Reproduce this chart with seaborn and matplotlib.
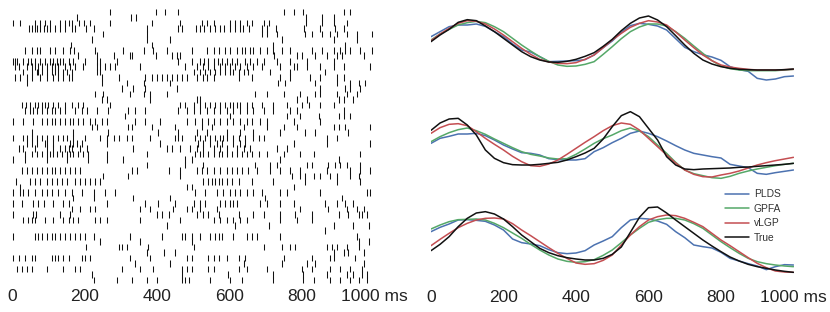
import numpy as np
import pandas as pd
import seaborn as sns
import matplotlib.pyplot as plt

sns.set_style("white")
plt.rcParams['font.family'] = ['Liberation Sans', 'DejaVu Sans']

# spike times in ms, one list per neuron (top row first)
spike_times = [
    [271, 398, 422, 457, 749, 777, 804, 915, 933],
    [180, 329, 342, 812, 855, 887],
    [4, 22, 64, 77, 91, 105, 133, 145, 156, 165, 186, 199, 214, 271, 386, 464, 524, 537, 556, 602, 616, 629, 648, 662, 694, 710, 812, 855, 887, 924],
    [48, 55, 63, 70, 78, 87, 96, 105, 119, 133, 146, 165, 174, 204, 226, 372, 459, 468, 508, 519, 531, 545, 560, 574, 585, 602, 616, 628, 637, 655, 689, 703, 729, 806, 850, 890, 915],
    [252, 372, 689, 703, 731, 809, 827, 855, 878, 896, 924, 951, 993],
    [220, 372, 436, 744, 887, 951],
    [162, 386, 721, 919],
    [36, 54, 68, 77, 105, 119, 142, 160, 171, 229, 307, 363, 390, 427, 496, 537, 556, 570, 588, 602, 620, 634, 643, 657, 666, 685, 703, 721, 744, 767, 827, 855, 887, 905, 919, 933, 961, 993],
    [181, 234, 280, 326, 332, 398, 441, 455, 464, 724, 786, 800, 836, 869, 896, 910, 970],
    [2, 8, 15, 31, 45, 52, 64, 77, 91, 105, 114, 123, 133, 142, 156, 169, 202, 234, 243, 289, 459, 496, 519, 530, 542, 556, 567, 579, 593, 606, 620, 643, 657, 675, 694, 731, 767, 813, 887],
    [8, 18, 41, 54, 64, 73, 82, 96, 110, 119, 128, 146, 160, 174, 197, 234, 243, 257, 271, 284, 353, 478, 510, 528, 542, 556, 574, 588, 602, 616, 629, 648, 666, 689, 740, 777, 786, 813, 850, 887, 915, 988],
    [31, 54, 68, 73, 82, 96, 110, 119, 128, 142, 151, 165, 234, 243, 501, 519, 533, 547, 560, 574, 588, 602, 611, 625, 639, 652, 712, 767, 864],
    [8, 22, 41, 54, 77, 96, 114, 128, 142, 156, 165, 248, 294, 367, 386, 399, 413, 427, 441, 455, 468, 482, 510, 528, 537, 556, 625, 662, 740, 767, 823, 850, 896, 915],
    [41, 248, 317, 363, 436, 735, 754, 836, 896, 933, 956, 974],
    [303, 335, 367, 455, 850, 919, 933, 961],
    [229, 252, 326, 363, 381, 427, 671, 703, 749, 795, 836, 850, 896, 924, 951],
    [248, 261, 381, 510, 519, 786, 813, 901, 915, 942],
    [27, 39, 50, 64, 73, 82, 91, 100, 114, 128, 146, 165, 183, 197, 271, 464, 478, 501, 519, 533, 547, 560, 574, 588, 602, 611, 620, 629, 648, 662, 689, 721, 758, 800, 818, 850, 887],
    [36, 50, 59, 68, 82, 96, 110, 119, 133, 146, 174, 192, 206, 234, 266, 321, 340, 367, 459, 482, 501, 519, 537, 556, 574, 593, 611, 629, 648, 666, 694, 721, 767, 786, 915],
    [312, 602, 758, 795, 846, 901, 915, 933],
    [2, 30, 59, 82, 96, 110, 119, 133, 146, 160, 169, 183, 197, 215, 229, 248, 261, 340, 367, 409, 482, 505, 524, 542, 556, 574, 593, 611, 629, 648, 662, 685, 703, 777, 850],
    [220, 234, 321, 330, 386, 450, 524, 551, 639, 703, 749, 786, 887, 901, 919, 988],
    [54, 169, 266, 404, 459, 510, 537, 593, 629, 666, 740, 809, 836, 928],
    [4, 30, 41, 54, 68, 82, 96, 114, 128, 142, 151, 169, 202, 243, 261, 280, 294, 317, 330, 381, 450, 459, 468, 505, 519, 533, 547, 560, 574, 583, 593, 611, 625, 643, 666, 680, 694, 869, 896],
    [41, 54, 68, 91, 96, 114, 160, 169, 179, 192, 261, 409, 514, 528, 547, 565, 579, 611, 629, 643, 777, 869, 988],
    [18, 31, 64, 96, 114, 133, 146, 156, 165, 188, 206, 335, 427, 441, 464, 491, 510, 528, 556, 574, 593, 620, 639, 657, 731, 758],
    [36, 54, 68, 82, 96, 105, 114, 123, 137, 151, 160, 169, 183, 197, 211, 261, 372, 505, 519, 528, 542, 556, 570, 579, 593, 606, 620, 634, 648, 662, 680, 703, 749, 795, 832, 961],
    [4, 36, 96, 151, 211, 261, 307, 478, 496, 740, 901],
    [372, 478, 528, 671, 712, 731, 813, 827, 873, 892, 905, 924, 961],
    [27, 41, 54, 68, 82, 96, 110, 119, 133, 146, 160, 174, 188, 330, 344, 432, 464, 510, 524, 537, 556, 574, 593, 606, 620, 634, 652, 675, 712, 740, 767, 795, 869, 933, 961, 988],
    [252, 321, 464, 772, 795, 809, 832, 850, 878, 896, 933, 956],
    [11, 50, 64, 77, 96, 110, 123, 137, 151, 174, 188, 202, 215, 229, 243, 528, 542, 551, 560, 570, 579, 593, 606, 625, 662, 721, 809, 896, 961],
    [22, 482, 496, 777],
    [4, 22, 31, 45, 64, 82, 96, 110, 128, 146, 165, 192, 225, 257, 284, 505, 533, 565, 583, 602, 616, 629, 648, 666, 689, 740, 758, 850, 979, 988],
    [169, 225, 335, 436, 698, 910],
    [4, 27, 59, 73, 87, 114, 142, 156, 261, 367, 404, 450, 501, 519, 533, 574, 588, 602, 611, 620, 685, 703, 740, 777, 864, 896, 919, 942],
    [165, 188, 215, 229, 353, 381, 445, 482, 496, 519, 565, 795, 873, 924, 951, 970],
    [4, 59, 66, 133, 160, 399, 413, 432, 510, 528, 542, 570, 625, 666, 694, 740, 781, 827, 901, 928, 956, 965, 979],
    [31, 45, 54, 64, 91, 114, 142, 156, 169, 183, 229, 243, 261, 353, 464, 556, 574, 593, 611, 629, 648, 740, 786, 827],
    [427, 616, 708, 887, 942, 984],
    [864],
    [4, 64, 73, 82, 96, 110, 119, 133, 146, 160, 174, 188, 202, 225, 326, 413, 468, 478, 496, 519, 547, 560, 570, 579, 611, 648, 662, 675, 740, 951],
    [243, 353, 496, 956, 984],
    [204, 294, 303, 317, 376, 501, 694, 744, 767, 781, 869, 882, 896, 924, 956],
    [372, 418, 450, 887, 915, 928, 970],
    [4, 18, 36, 54, 64, 110, 119, 128, 142, 156, 192, 202, 215, 326, 381, 482, 496, 542, 556, 570, 593, 625, 643, 749, 827, 878, 887, 947],
    [340, 436, 639, 744, 813, 836, 970],
    [13, 27, 41, 54, 96, 142, 174, 188, 303, 353, 390, 468, 482, 496, 542, 556, 625, 648, 703, 800, 827, 878, 905, 933, 965],
    [220, 468, 597, 721, 804, 869, 924, 942, 965, 979],
    [225, 289, 330, 372, 399, 468, 478, 487, 547, 602, 634, 721, 804, 832, 878, 905, 933, 956, 979],
]

# latent trajectories, sampled every 25 ms
t_ms = np.arange(0, 1001, 25)

plds_1 = [4.0, 5.5, 7.0, 7.5, 7.5, 7.8, 7.1, 5.5, 4.0, 1.8, 0.0, -0.6, -2.0, -3.5, -3.4, -3.3, -3.2, -2.9, -1.5, 0.7,
          2.7, 5.3, 7.3, 8.0, 7.7, 7.2, 6.0, 3.4, 0.8, -0.5, -1.4, -2.1, -3.1, -5.0, -5.9, -6.4, -8.5, -9.0, -8.7, -8.0, -7.8]
gpfa_1 = [3.0, 4.8, 6.2, 7.5, 8.2, 8.6, 8.2, 7.0, 5.5, 3.5, 1.5, -0.3, -2.0, -3.4, -4.5, -4.9, -4.8, -4.3, -3.5, -1.3,
          1.0, 3.4, 5.5, 6.9, 7.8, 7.8, 7.2, 5.5, 3.5, 1.2, -1.0, -3.2, -4.8, -5.6, -6.0, -6.2, -6.2, -6.2, -6.2, -6.0, -5.8]
vlgp_1 = [2.8, 4.8, 6.5, 8.0, 8.8, 8.6, 7.8, 6.3, 4.5, 2.5, 0.5, -1.3, -2.8, -3.6, -4.0, -4.1, -3.8, -2.8, -1.5, 0.7,
          3.0, 5.0, 6.8, 8.0, 8.8, 8.4, 7.5, 5.4, 3.0, 0.7, -1.5, -3.2, -4.5, -5.1, -5.5, -5.8, -6.0, -6.0, -6.0, -5.9, -5.8]
true_1 = [2.5, 4.5, 6.2, 8.3, 9.1, 8.8, 7.2, 5.5, 3.5, 1.5, -0.5, -2.0, -3.0, -3.6, -3.7, -3.4, -2.8, -1.9, -0.8, 1.1,
          3.2, 5.8, 8.0, 9.6, 10.2, 9.0, 7.0, 4.3, 1.5, -1.0, -3.0, -4.2, -5.0, -5.5, -5.8, -5.9, -6.0, -6.0, -6.0, -5.9, -5.7]

plds_2 = [0.5, 2.0, 2.6, 3.3, 3.3, 3.5, 2.8, 1.5, 0.0, -1.2, -2.3, -2.5, -3.0, -4.1, -4.4, -4.5, -4.5, -4.1, -2.0, -0.8,
          0.7, 2.0, 3.5, 4.2, 3.5, 2.5, 1.2, -0.2, -1.5, -2.5, -3.0, -3.5, -3.9, -5.8, -6.3, -6.8, -8.5, -8.8, -8.3, -7.9, -7.5]
gpfa_2 = [1.0, 2.5, 3.7, 4.6, 5.1, 4.3, 3.2, 1.8, 0.5, -0.8, -2.0, -2.8, -3.3, -3.9, -4.2, -4.1, -2.8, -1.2, 0.5, 1.9,
          3.0, 4.3, 5.1, 4.2, 2.5, 0.0, -2.5, -5.2, -7.5, -8.6, -9.2, -9.8, -10.0, -9.4, -8.5, -7.8, -7.2, -6.7, -6.2, -5.8, -5.5]
vlgp_2 = [3.5, 5.2, 6.2, 6.4, 5.8, 4.0, 2.0, 0.2, -1.5, -3.4, -5.0, -6.2, -6.4, -5.7, -4.5, -2.8, -1.0, 0.8, 2.5, 4.3,
          5.8, 6.6, 6.2, 4.5, 2.0, -0.5, -3.0, -5.4, -7.5, -8.8, -9.5, -9.6, -9.0, -8.5, -7.8, -6.9, -6.0, -5.3, -4.7, -4.2, -3.7]
true_2 = [4.4, 6.6, 7.8, 8.0, 6.0, 3.0, -1.5, -4.0, -5.3, -5.9, -6.0, -6.0, -5.8, -5.5, -5.2, -4.5, -3.5, -2.4, -1.0, 1.8,
          5.5, 8.8, 10.0, 8.5, 5.0, 1.5, -3.5, -6.0, -7.2, -7.4, -7.2, -7.1, -7.0, -6.9, -6.7, -6.6, -6.4, -6.2, -6.0, -5.8, -5.5]

plds_3 = [1.0, 2.3, 3.3, 4.5, 4.6, 4.4, 4.1, 3.0, 1.5, -1.2, -2.3, -2.7, -3.2, -4.4, -5.3, -5.6, -5.4, -4.7, -3.0, -1.8,
          -0.5, 2.2, 4.5, 5.0, 4.8, 4.2, 3.2, 1.0, -0.8, -3.0, -3.5, -3.9, -5.2, -7.0, -7.8, -8.6, -9.3, -10.4, -9.5, -8.9, -9.0]
gpfa_3 = [1.8, 3.0, 4.0, 4.6, 4.7, 4.8, 4.5, 3.5, 2.2, 0.6, -1.0, -2.8, -4.5, -6.0, -7.2, -7.9, -8.2, -8.0, -7.4, -6.1,
          -4.5, -2.3, 0.0, 2.0, 3.8, 4.6, 5.0, 5.0, 4.5, 3.4, 2.0, 0.0, -2.0, -3.8, -5.5, -7.0, -8.0, -8.6, -9.0, -9.3, -9.5]
vlgp_3 = [-3.2, -1.3, 0.5, 2.2, 3.5, 4.5, 5.0, 5.1, 4.8, 3.4, 1.5, -0.2, -2.0, -3.8, -5.5, -7.0, -8.4, -8.8, -8.6, -7.6,
          -6.0, -3.0, 0.0, 2.5, 4.5, 5.5, 6.0, 5.8, 5.0, 3.8, 2.5, 0.5, -1.5, -3.2, -5.0, -6.8, -8.5, -9.8, -10.8, -11.1, -11.2]
true_3 = [-4.7, -2.8, -0.5, 2.5, 5.0, 6.6, 7.0, 6.3, 4.8, 2.5, 0.0, -2.0, -4.0, -5.3, -6.2, -6.8, -7.2, -7.5, -7.5, -7.0,
          -5.8, -3.6, 0.8, 5.3, 8.2, 8.4, 6.6, 4.5, 2.5, 0.5, -1.5, -3.3, -5.0, -6.6, -7.8, -8.8, -9.5, -10.0, -10.5, -10.9, -11.2]

methods = ['PLDS', 'GPFA', 'vLGP', 'True']
method_colors = {'PLDS': '#4c72b0', 'GPFA': '#55a868', 'vLGP': '#c44e52', 'True': '#111111'}
tick_values = [0, 200, 400, 600, 800, 1000]
tick_labels = ['0', '200', '400', '600', '800', '1000 ms']

W, H = 830, 312
fig = plt.figure(figsize=(W / 100, H / 100), dpi=100)

# -------------------
# Raster
n_rows = len(spike_times)
ax_r = fig.add_axes([12 / W, 1 - 284 / H, 362.5 / W, 276 / H])
ax_r.eventplot(spike_times, lineoffsets=np.arange(n_rows), linelengths=1.2,
               colors='#111111', linewidths=0.75)
ax_r.set_xlim(0, 1000)
ax_r.set_ylim(n_rows - 1 + 0.73, -0.73)
ax_r.set_yticks([])
ax_r.set_xticks(tick_values)
ax_r.set_xticklabels(tick_labels)
ax_r.tick_params(axis='x', length=0, labelsize=12.5, pad=3.5, labelcolor='#222222')
sns.despine(ax=ax_r, left=True, bottom=True)

# -------------------
# Latent trajectories
panels = [
    ((0, 100), (-15, 15), [plds_1, gpfa_1, vlgp_1, true_1]),
    ((95, 190), (-13.5, 15), [plds_2, gpfa_2, vlgp_2, true_2]),
    ((185, 285), (-15, 15), [plds_3, gpfa_3, vlgp_3, true_3]),
]

for i, ((top, bot), ylim, series) in enumerate(panels):
    ax = fig.add_axes([431 / W, 1 - bot / H, 362.5 / W, (bot - top) / H])
    ax.patch.set_alpha(0)
    df = pd.DataFrame({
        't': np.tile(t_ms, len(methods)),
        'value': np.concatenate(series),
        'method': np.repeat(methods, len(t_ms)),
    })
    sns.lineplot(data=df, x='t', y='value', hue='method', hue_order=methods,
                 palette=method_colors, linewidth=1.1, estimator=None,
                 legend=(i == 2), ax=ax)
    ax.set_xlim(0, 1000)
    ax.set_ylim(*ylim)
    ax.set_yticks([])
    ax.set_xlabel('')
    ax.set_ylabel('')
    sns.despine(ax=ax, left=True, bottom=True)
    if i < 2:
        ax.set_xticks([])
    else:
        ax.set_xticks(tick_values)
        ax.set_xticklabels(tick_labels)
        ax.tick_params(axis='x', length=0, labelsize=12.5, pad=3.5, labelcolor='#222222')
        handles, labels = ax.get_legend_handles_labels()
        leg = ax.legend(handles, labels, loc='upper left',
                        bbox_to_anchor=(721 / W, 1 - 185 / H),
                        bbox_transform=fig.transFigure, frameon=False,
                        fontsize=7.4, handlelength=2.3, handletextpad=0.5,
                        labelspacing=0.45, borderaxespad=0, borderpad=0.4)
        for txt in leg.get_texts():
            txt.set_color('#333333')

plt.savefig("out.png", dpi=100)
plt.close()
